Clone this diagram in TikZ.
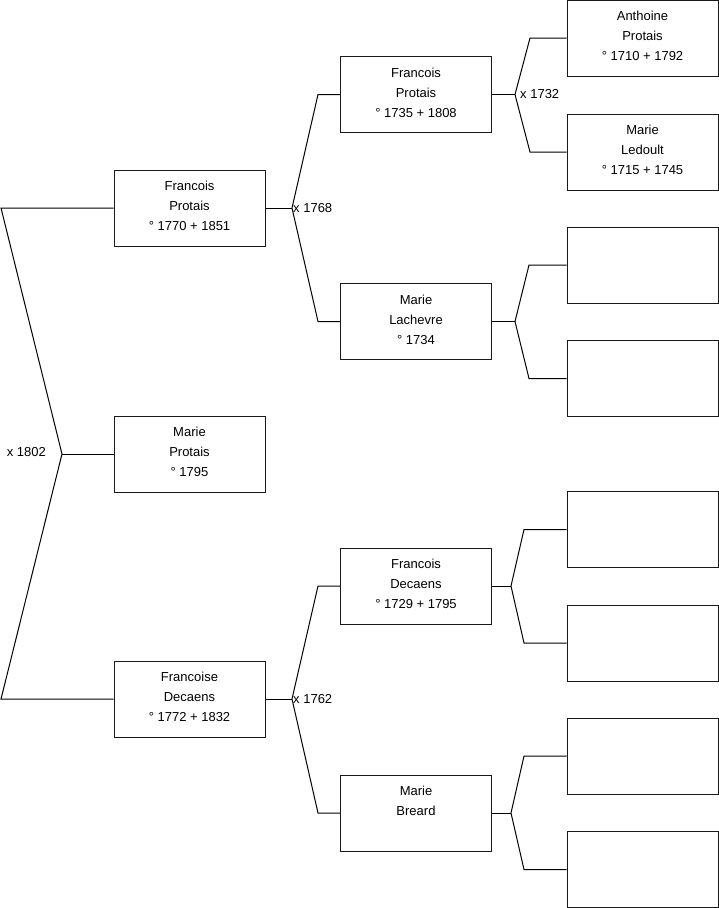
\documentclass[tikz,border=0pt]{standalone}
\usepackage{fontspec}
\setmainfont{Liberation Sans}
\usetikzlibrary{positioning}
\newcommand{\fs}{\fontsize{13}{20}\selectfont}
\tikzset{
  box/.style={draw=black!90,line width=1pt,minimum width=151pt,minimum height=76pt,inner sep=0pt,
    label={[anchor=north,yshift=-11.4pt,inner sep=0pt,align=center,font=\fs]north:#1}},
  box/.default={},
  lnk/.style={draw=black,line width=1pt},
  mar/.style={font=\fs,inner sep=1pt},
}
\begin{document}
\begin{tikzpicture}[x=1pt,y=-1pt]
 \useasboundingbox (0,0) rectangle (719,908);
 % children
 \node[box={Francois\\Protais\\° 1770 + 1851}] (fp1) at (189.5,208){};
 \node[box={Marie\\Protais\\° 1795}] (mp) at (189.5,454){};
 \node[box={Francoise\\Decaens\\° 1772 + 1832}] (fd1) at (189.5,699){};
 % parents
 \node[box={Francois\\Protais\\° 1735 + 1808}] (fp2) at (416,94.5){};
 \node[box={Marie\\Lachevre\\° 1734}] (ml) at (416,321.5){};
 \node[box={Francois\\Decaens\\° 1729 + 1795}] (fd2) at (416,586){};
 \node[box={Marie\\Breard}] (mb) at (416,813){};
 % grandparents
 \node[box={Anthoine\\Protais\\° 1710 + 1792}] (ap) at (642.5,38){};
 \node[box={Marie\\Ledoult\\° 1715 + 1745}] (mle) at (642.5,152){};
 \node[box] (e1) at (642.5,265){}; \node[box] (e2) at (642.5,378.5){};
 \node[box] (e3) at (642.5,529.5){}; \node[box] (e4) at (642.5,643){};
 \node[box] (e5) at (642.5,756){}; \node[box] (e6) at (642.5,869.5){};
 % forks
 \coordinate (x0) at (62,454); \coordinate (b0) at (1,454);
 \draw[lnk] (fp1.west) -- (fp1.west -| b0) -- (x0) -- (fd1.west -| b0) -- (fd1.west); \draw[lnk] (x0) -- (mp.west);
 \node[mar,anchor=east] (m0) at (47,452){x 1802};
 \coordinate (x1) at (292,208); \coordinate (b1) at (318,208);
 \draw[lnk] (fp1.east) -- (x1); \draw[lnk] (fp2.west) -- (fp2.west -| b1) -- (x1) -- (ml.west -| b1) -- (ml.west);
 \node[mar,anchor=west] (m1) at (x1){x 1768};
 \coordinate (x2) at (292,699); \coordinate (b2) at (318,699);
 \draw[lnk] (fd1.east) -- (x2); \draw[lnk] (fd2.west) -- (fd2.west -| b2) -- (x2) -- (mb.west -| b2) -- (mb.west);
 \node[mar,anchor=west] (m2) at (x2){x 1762};
 \coordinate (x3) at (515,94.5); \coordinate (b3) at (530,94.5);
 \draw[lnk] (fp2.east) -- (x3); \draw[lnk] (ap.west) -- (ap.west -| b3) -- (x3) -- (mle.west -| b3) -- (mle.west);
 \node[mar,anchor=west,xshift=4pt] (m3) at (x3){x 1732};
 \coordinate (x4) at (515,321.5); \coordinate (b4) at (529,321.5);
 \draw[lnk] (ml.east) -- (x4); \draw[lnk] (e1.west) -- (e1.west -| b4) -- (x4) -- (e2.west -| b4) -- (e2.west);
 \coordinate (x5) at (511,586); \coordinate (b5) at (524,586);
 \draw[lnk] (fd2.east) -- (x5); \draw[lnk] (e3.west) -- (e3.west -| b5) -- (x5) -- (e4.west -| b5) -- (e4.west);
 \coordinate (x6) at (511,813); \coordinate (b6) at (524,813);
 \draw[lnk] (mb.east) -- (x6); \draw[lnk] (e5.west) -- (e5.west -| b6) -- (x6) -- (e6.west -| b6) -- (e6.west);
\end{tikzpicture}
\end{document}
